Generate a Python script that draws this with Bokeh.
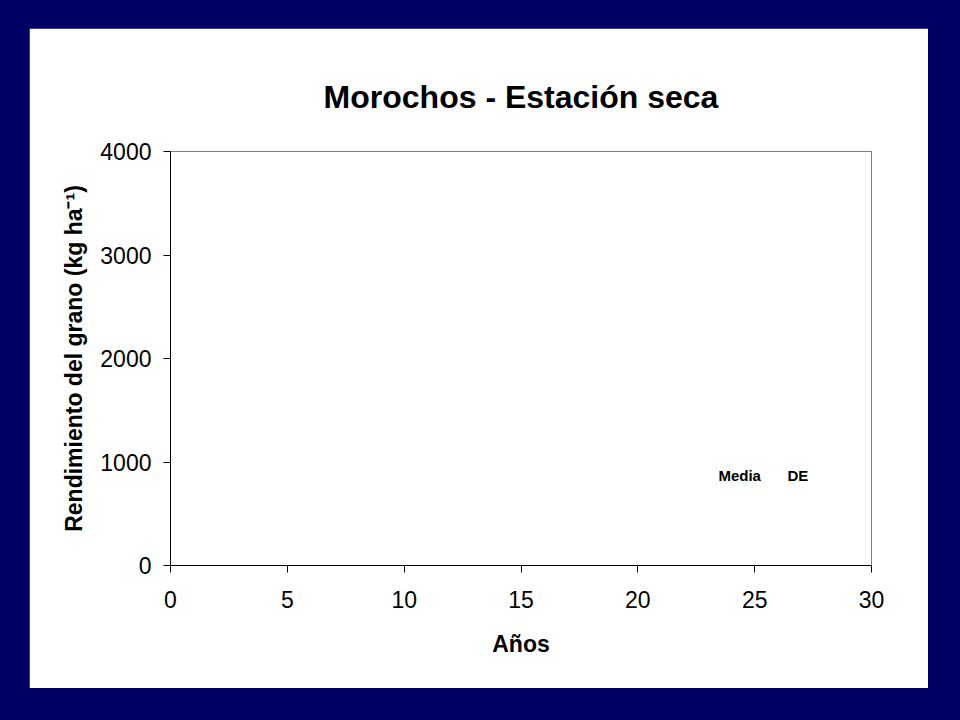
from bokeh.plotting import figure
from bokeh.models import Range1d, FixedTicker, Label
from bokeh.layouts import column
from bokeh.embed import file_html
from bokeh.resources import INLINE

# ---- chart content ----
title_text = "Morochos - Estación seca"
x_label = "Años"
y_label = "Rendimiento del grano (kg ha⁻¹)"
x_ticks = [0, 5, 10, 15, 20, 25, 30]
y_ticks = [0, 1000, 2000, 3000, 4000]
legend_labels = ["Media", "DE"]
legend_x = [23.45, 26.4]
legend_y = [870, 870]

FONT = "Liberation Sans"
NAVY = "#000064"

# white slide panel = the figure itself; navy slide background = wrapping column
p = figure(width=899, height=660, output_backend="svg", toolbar_location=None,
           x_range=Range1d(x_ticks[0], x_ticks[-1]), y_range=Range1d(y_ticks[0], y_ticks[-1]),
           min_border_left=141, min_border_right=57, min_border_top=123, min_border_bottom=123)
p.margin = (28, 16, 16, 29)

p.border_fill_color = "white"
p.background_fill_color = "white"
p.outline_line_color = "#808080"
p.outline_line_width = 1
p.xgrid.visible = False
p.ygrid.visible = False

p.title.text = title_text
p.title.align = "center"
p.title.text_font = FONT
p.title.text_font_size = "32px"
p.title.text_font_style = "bold"
p.title.text_color = "black"
p.title.standoff = 74

p.xaxis.ticker = FixedTicker(ticks=x_ticks)
p.yaxis.ticker = FixedTicker(ticks=y_ticks)
p.xaxis.axis_label = x_label
p.yaxis.axis_label = y_label

for ax in (p.xaxis[0], p.yaxis[0]):
    ax.axis_line_color = "black"
    ax.axis_line_width = 1
    ax.major_tick_line_color = "black"
    ax.minor_tick_line_color = None
    ax.major_tick_out = 7
    ax.major_tick_in = 0
    ax.major_label_text_font = FONT
    ax.major_label_text_font_size = "23px"
    ax.major_label_text_color = "black"
    ax.axis_label_text_font = FONT
    ax.axis_label_text_font_size = "23px"
    ax.axis_label_text_font_style = "bold"
    ax.axis_label_text_color = "black"

p.xaxis.major_label_standoff = 18
p.xaxis.axis_label_standoff = 20
p.yaxis.major_label_standoff = 12
p.yaxis.axis_label_standoff = 10

for lab, lx, ly in zip(legend_labels, legend_x, legend_y):
    p.add_layout(Label(x=lx, y=ly, text=lab, text_font=FONT, text_font_size="15px",
                       text_font_style="bold", text_color="black", text_baseline="middle"))

page = column(p, width=944, height=704,
              styles={"background-color": NAVY, "box-shadow": "0 0 0 16px " + NAVY})

open("out.html", "w").write(file_html(page, INLINE))
